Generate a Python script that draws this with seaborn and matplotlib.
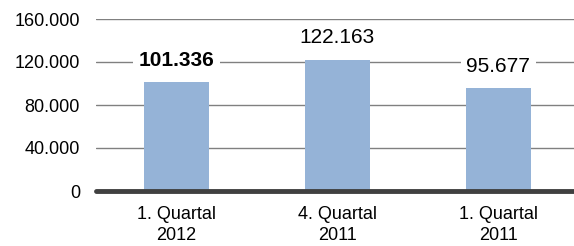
import matplotlib
matplotlib.use("Agg")
import matplotlib.pyplot as plt
import seaborn as sns
import pandas as pd

# ------------------------------------------------------------
# data
# ------------------------------------------------------------
categories = ["1. Quartal\n2012", "4. Quartal\n2011", "1. Quartal\n2011"]
values = [101336, 122163, 95677]
value_labels = ["101.336", "122.163", "95.677"]
bold_flags = [True, False, False]
y_ticks = [0, 40000, 80000, 120000, 160000]
y_tick_labels = ["0", "40.000", "80.000", "120.000", "160.000"]

df = pd.DataFrame({"Quartal": categories, "Wert": values})

# ------------------------------------------------------------
# plot
# ------------------------------------------------------------
sns.set_style("white")
plt.rcParams["font.family"] = ["Liberation Sans", "DejaVu Sans"]
plt.rcParams["text.color"] = "black"
plt.rcParams["xtick.color"] = "black"
plt.rcParams["ytick.color"] = "black"

fig = plt.figure(figsize=(5.74, 2.46), dpi=100)
ax = fig.add_axes([96 / 574, 1 - 191 / 246, 1 - 96 / 574, (191 - 19) / 246])

sns.barplot(data=df, x="Quartal", y="Wert", order=categories,
            color="#95B3D7", saturation=1, width=0.4, linewidth=0,
            ax=ax, zorder=3)

ax.set_ylim(0, 160000)
ax.set_xlim(-0.5, 2.47)
ax.set_yticks(y_ticks)
ax.set_yticklabels(y_tick_labels, fontsize=13, color="black")
ax.tick_params(axis="y", length=0, pad=11.5)
ax.tick_params(axis="x", length=0, pad=11, labelsize=13, labelcolor="black")
for lbl in ax.get_xticklabels():
    lbl.set_linespacing(1.25)

for t in y_ticks[1:]:
    ax.axhline(t, color="#808080", linewidth=1, zorder=1)
ax.axhline(0, color="#404040", linewidth=3.5, zorder=4, clip_on=False)

for i, (v, txt, b) in enumerate(zip(values, value_labels, bold_flags)):
    ax.annotate(txt, (i, v), xytext=(0, 22), textcoords="offset pixels",
                ha="center", va="center", fontsize=15, color="black",
                fontweight="bold" if b else "normal", zorder=5,
                bbox=dict(boxstyle="square,pad=0.25", fc="white", ec="none"))

for side in ["top", "right", "left", "bottom"]:
    ax.spines[side].set_visible(False)
ax.set_xlabel("")
ax.set_ylabel("")
ax.grid(False)

fig.savefig("out.png", dpi=100)
